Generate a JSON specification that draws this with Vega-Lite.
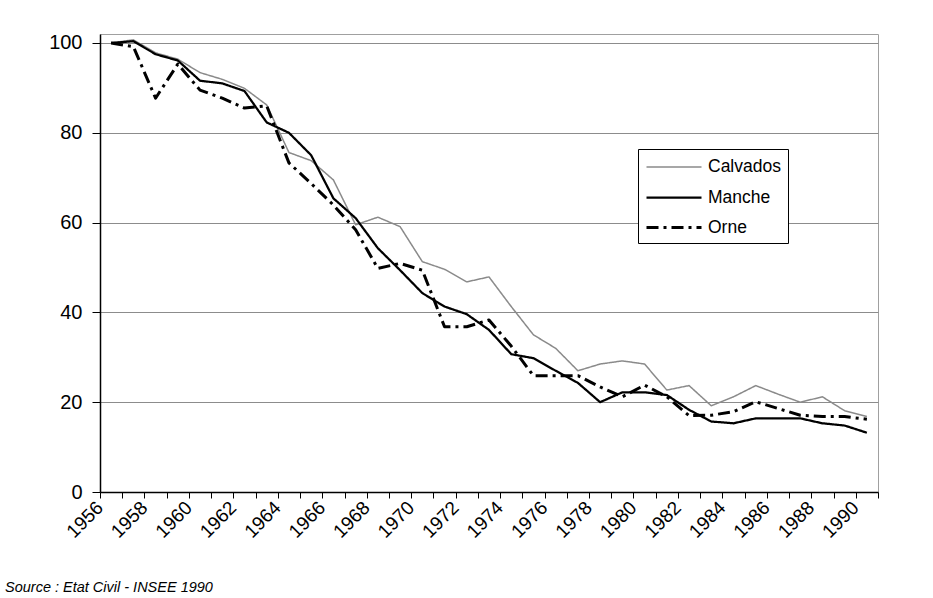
{
  "$schema": "https://vega.github.io/schema/vega-lite/v6.json",
  "width": 778,
  "height": 458,
  "autosize": {"type": "none"},
  "padding": {"left": 100, "top": 34, "right": 55, "bottom": 106},
  "background": "white",
  "config": {
    "font": "Liberation Sans",
    "view": {"stroke": "#a0a0a0", "strokeWidth": 1}
  },
  "title": {
    "text": "Source : Etat Civil - INSEE 1990",
    "orient": "bottom",
    "anchor": "start",
    "frame": "group",
    "dx": -95,
    "offset": 40,
    "fontSize": 14.5,
    "fontStyle": "italic",
    "fontWeight": "normal",
    "color": "black",
    "font": "Liberation Sans"
  },
  "datasets": {
    "d": [
      {"year": 1956, "dept": "Calvados", "v": 100}, {"year": 1956, "dept": "Manche", "v": 100}, {"year": 1956, "dept": "Orne", "v": 100},
      {"year": 1957, "dept": "Calvados", "v": 100.7}, {"year": 1957, "dept": "Manche", "v": 100.4}, {"year": 1957, "dept": "Orne", "v": 99.2},
      {"year": 1958, "dept": "Calvados", "v": 97.8}, {"year": 1958, "dept": "Manche", "v": 97.5}, {"year": 1958, "dept": "Orne", "v": 87.7},
      {"year": 1959, "dept": "Calvados", "v": 96.4}, {"year": 1959, "dept": "Manche", "v": 96.1}, {"year": 1959, "dept": "Orne", "v": 95.3},
      {"year": 1960, "dept": "Calvados", "v": 93.4}, {"year": 1960, "dept": "Manche", "v": 91.6}, {"year": 1960, "dept": "Orne", "v": 89.5},
      {"year": 1961, "dept": "Calvados", "v": 91.9}, {"year": 1961, "dept": "Manche", "v": 91.0}, {"year": 1961, "dept": "Orne", "v": 87.7},
      {"year": 1962, "dept": "Calvados", "v": 89.9}, {"year": 1962, "dept": "Manche", "v": 89.3}, {"year": 1962, "dept": "Orne", "v": 85.5},
      {"year": 1963, "dept": "Calvados", "v": 86.2}, {"year": 1963, "dept": "Manche", "v": 82.3}, {"year": 1963, "dept": "Orne", "v": 86.0},
      {"year": 1964, "dept": "Calvados", "v": 75.6}, {"year": 1964, "dept": "Manche", "v": 80.0}, {"year": 1964, "dept": "Orne", "v": 73.3},
      {"year": 1965, "dept": "Calvados", "v": 73.8}, {"year": 1965, "dept": "Manche", "v": 75.0}, {"year": 1965, "dept": "Orne", "v": 68.7},
      {"year": 1966, "dept": "Calvados", "v": 69.5}, {"year": 1966, "dept": "Manche", "v": 65.4}, {"year": 1966, "dept": "Orne", "v": 63.9},
      {"year": 1967, "dept": "Calvados", "v": 59.5}, {"year": 1967, "dept": "Manche", "v": 61.0}, {"year": 1967, "dept": "Orne", "v": 58.4},
      {"year": 1968, "dept": "Calvados", "v": 61.2}, {"year": 1968, "dept": "Manche", "v": 54.3}, {"year": 1968, "dept": "Orne", "v": 49.8},
      {"year": 1969, "dept": "Calvados", "v": 59.1}, {"year": 1969, "dept": "Manche", "v": 49.4}, {"year": 1969, "dept": "Orne", "v": 50.9},
      {"year": 1970, "dept": "Calvados", "v": 51.3}, {"year": 1970, "dept": "Manche", "v": 44.3}, {"year": 1970, "dept": "Orne", "v": 49.4},
      {"year": 1971, "dept": "Calvados", "v": 49.6}, {"year": 1971, "dept": "Manche", "v": 41.3}, {"year": 1971, "dept": "Orne", "v": 36.8},
      {"year": 1972, "dept": "Calvados", "v": 46.8}, {"year": 1972, "dept": "Manche", "v": 39.6}, {"year": 1972, "dept": "Orne", "v": 36.8},
      {"year": 1973, "dept": "Calvados", "v": 47.9}, {"year": 1973, "dept": "Manche", "v": 36.1}, {"year": 1973, "dept": "Orne", "v": 38.3},
      {"year": 1974, "dept": "Calvados", "v": 41.3}, {"year": 1974, "dept": "Manche", "v": 30.7}, {"year": 1974, "dept": "Orne", "v": 32.5},
      {"year": 1975, "dept": "Calvados", "v": 35.0}, {"year": 1975, "dept": "Manche", "v": 29.8}, {"year": 1975, "dept": "Orne", "v": 25.9},
      {"year": 1976, "dept": "Calvados", "v": 32.0}, {"year": 1976, "dept": "Manche", "v": 27.0}, {"year": 1976, "dept": "Orne", "v": 25.9},
      {"year": 1977, "dept": "Calvados", "v": 27.0}, {"year": 1977, "dept": "Manche", "v": 24.3}, {"year": 1977, "dept": "Orne", "v": 25.9},
      {"year": 1978, "dept": "Calvados", "v": 28.5}, {"year": 1978, "dept": "Manche", "v": 20.0}, {"year": 1978, "dept": "Orne", "v": 23.4},
      {"year": 1979, "dept": "Calvados", "v": 29.2}, {"year": 1979, "dept": "Manche", "v": 22.2}, {"year": 1979, "dept": "Orne", "v": 21.2},
      {"year": 1980, "dept": "Calvados", "v": 28.5}, {"year": 1980, "dept": "Manche", "v": 22.2}, {"year": 1980, "dept": "Orne", "v": 23.8},
      {"year": 1981, "dept": "Calvados", "v": 22.7}, {"year": 1981, "dept": "Manche", "v": 21.6}, {"year": 1981, "dept": "Orne", "v": 21.2},
      {"year": 1982, "dept": "Calvados", "v": 23.7}, {"year": 1982, "dept": "Manche", "v": 18.3}, {"year": 1982, "dept": "Orne", "v": 17.0},
      {"year": 1983, "dept": "Calvados", "v": 19.2}, {"year": 1983, "dept": "Manche", "v": 15.7}, {"year": 1983, "dept": "Orne", "v": 17.1},
      {"year": 1984, "dept": "Calvados", "v": 21.2}, {"year": 1984, "dept": "Manche", "v": 15.3}, {"year": 1984, "dept": "Orne", "v": 17.9},
      {"year": 1985, "dept": "Calvados", "v": 23.7}, {"year": 1985, "dept": "Manche", "v": 16.4}, {"year": 1985, "dept": "Orne", "v": 20.1},
      {"year": 1986, "dept": "Calvados", "v": 21.8}, {"year": 1986, "dept": "Manche", "v": 16.4}, {"year": 1986, "dept": "Orne", "v": 18.6},
      {"year": 1987, "dept": "Calvados", "v": 20.0}, {"year": 1987, "dept": "Manche", "v": 16.4}, {"year": 1987, "dept": "Orne", "v": 17.1},
      {"year": 1988, "dept": "Calvados", "v": 21.2}, {"year": 1988, "dept": "Manche", "v": 15.3}, {"year": 1988, "dept": "Orne", "v": 16.8},
      {"year": 1989, "dept": "Calvados", "v": 18.1}, {"year": 1989, "dept": "Manche", "v": 14.8}, {"year": 1989, "dept": "Orne", "v": 16.8},
      {"year": 1990, "dept": "Calvados", "v": 16.8}, {"year": 1990, "dept": "Manche", "v": 13.2}, {"year": 1990, "dept": "Orne", "v": 16.2}
    ]
  },
  "data": {"name": "d"},
  "mark": {"type": "line", "strokeJoin": "round"},
  "encoding": {
    "x": {
      "field": "year",
      "type": "ordinal",
      "bandPosition": 0.5,
      "scale": {"type": "band", "paddingInner": 0, "paddingOuter": 0},
      "axis": {
        "title": null,
        "grid": false,
        "tickBand": "extent",
        "ticks": true,
        "tickSize": 6,
        "tickColor": "black",
        "tickWidth": 1,
        "domainColor": "black",
        "domainWidth": 1.5,
        "labelAngle": -45,
        "labelAlign": "right",
        "labelBaseline": "top",
        "labelPadding": 0,
        "labelOffset": -18,
        "labelFontSize": 19,
        "labelColor": "black",
        "labelFont": "Liberation Sans",
        "labelOverlap": false,
        "labelExpr": "datum.value % 2 == 0 ? datum.label : ''"
      }
    },
    "y": {
      "field": "v",
      "type": "quantitative",
      "scale": {"domain": [0, 102], "nice": false},
      "axis": {
        "title": null,
        "values": [0, 20, 40, 60, 80, 100],
        "grid": true,
        "gridColor": "#8c8c8c",
        "gridWidth": 1,
        "tickSize": 8,
        "tickColor": "black",
        "domainColor": "black",
        "domainWidth": 1.5,
        "labelFontSize": 20,
        "labelPadding": 10,
        "labelColor": "black",
        "labelFont": "Liberation Sans"
      }
    },
    "color": {
      "field": "dept",
      "type": "nominal",
      "scale": {"domain": ["Calvados", "Manche", "Orne"], "range": ["#8a8a8a", "#000000", "#000000"]},
      "legend": {
        "orient": "none",
        "legendX": 538,
        "legendY": 115,
        "title": null,
        "fillColor": "white",
        "strokeColor": "black",
        "padding": 7,
        "symbolType": "M-1,0H4.5",
        "symbolSize": 400,
        "labelOffset": 40,
        "rowPadding": 10,
        "labelFontSize": 17.5,
        "labelFont": "Liberation Sans",
        "labelColor": "black"
      }
    },
    "strokeWidth": {
      "field": "dept",
      "type": "nominal",
      "scale": {"domain": ["Calvados", "Manche", "Orne"], "range": [1.5, 3, 1.4]}
    },
    "strokeDash": {
      "field": "dept",
      "type": "nominal",
      "scale": {"domain": ["Calvados", "Manche", "Orne"], "range": [[1, 0], [1, 0], [12, 5, 3, 5]]}
    }
  }
}
